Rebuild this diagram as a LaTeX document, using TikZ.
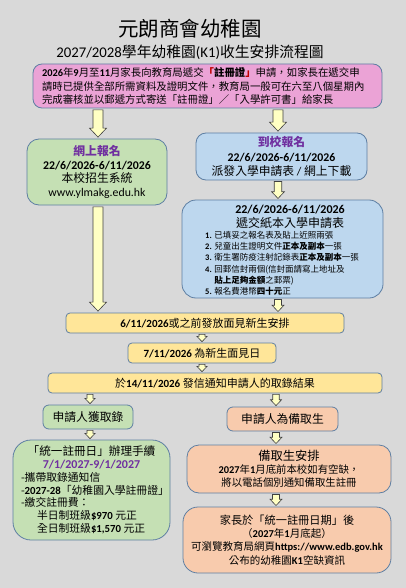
\documentclass[tikz,border=0pt]{standalone}
\usepackage{fontspec}
\setmainfont{Carlito}
\newfontfamily\cjk{Noto Sans CJK TC}
\newfontfamily\calibri{Carlito}
\usetikzlibrary{calc}

\definecolor{hgrau}{HTML}{D9D9D9}
\definecolor{rosa}{HTML}{EBA3D6}
\definecolor{gruen}{HTML}{C5E0B4}
\definecolor{blau}{HTML}{BDD7EE}
\definecolor{gelb}{HTML}{FFE699}
\definecolor{lachs}{HTML}{F8CBAD}
\definecolor{rand}{HTML}{5E7FA3}
\definecolor{lila}{HTML}{7030A0}
\definecolor{pfeil}{HTML}{FFFFC3}
\definecolor{klammer}{HTML}{C00000}

\newcommand\en[1]{{\calibri #1}}
\newcommand\enb[1]{{\calibri\bfseries #1}}

% Blockpfeil: [Faktor]{Spalte}{von}{nach}
\newcommand\blkarrow[4][1]{%
  \path[blockpfeil] let \p1=(#3.south), \p2=(#4.north), \p3=(#2),
    \n1={5pt*#1}, \n2={8.5pt*#1}, \n3={9pt*#1}, \n4={1.5pt*#1} in
    (\x3-\n1,\y1-\n4) -- (\x3+\n1,\y1-\n4) -- (\x3+\n1,\y2+\n3+\n4)
    -- (\x3+\n2,\y2+\n3+\n4) -- (\x3,\y2+\n4) -- (\x3-\n2,\y2+\n3+\n4)
    -- (\x3-\n1,\y2+\n3+\n4) -- cycle;}

\begin{document}
\begin{tikzpicture}[x=1pt, y=-1pt,
    every node/.style={inner sep=0pt, font={\cjk\fontsize{11}{13.5}\selectfont}},
    box/.style={draw=rand, line width=0.8pt, rounded corners=#1, align=center},
    box/.default=5pt,
    blockpfeil/.style={draw=black!75, line width=0.6pt, fill=pfeil, line join=miter}]

    % Hintergrund
    \fill[hgrau] (0,0) rectangle (406,588);

    % Ueberschrift
    \node[font={\cjk\fontsize{20.5}{24}\selectfont}] (titel) at (190,29) {元朗商會幼稚園};
    \node[font={\cjk\fontsize{14.8}{18}\selectfont}] (untertitel) at (190,52.5)
        {\en{2027/2028}學年幼稚園\en{(K1)}收生安排流程圖};

    % Hinweis zum Registrierungsschein
    \node[box=9pt, fill=rosa, minimum width=349pt, minimum height=44pt, text width=331pt,
          align=left, font={\cjk\fontsize{10.4}{13.5}\selectfont}] (info) at (207.5,86)
        {\enb{2026}年\enb{9}月至\enb{11}月家長向教育局遞交{\bfseries\textcolor{klammer}{「}註冊證\textcolor{klammer}{」}}申請，如家長在遞交申\\
         請時已提供全部所需資料及證明文件，教育局一般可在六至八個星期內\\
         完成審核並以郵遞方式寄送「註冊證」／「入學許可書」給家長};

    % Anmeldung online / vor Ort
    \node[box=12pt, fill=gruen, minimum width=140pt, minimum height=66pt,
          font={\cjk\fontsize{11.8}{13.5}\selectfont}] (online) at (97,172)
        {{\color{lila}\bfseries 網上報名}\\
         \enb{22/6/2026-6/11/2026}\\
         本校招生系統\\
         \en{www.ylmakg.edu.hk}};
    \node[box=10pt, fill=blau, minimum width=171pt, minimum height=47pt,
          font={\cjk\fontsize{11.8}{14.5}\selectfont}] (vorort) at (281.5,156.5)
        {{\color{lila}\bfseries 到校報名}\\
         \enb{22/6/2026-6/11/2026}\\
         派發入學申請表 \en{/} 網上下載};

    % Antragsformular mit Unterlagen
    \node[box=14pt, fill=blau, minimum width=201pt, minimum height=98pt] (formular) at (282.5,249) {};
    \node[font={\cjk\fontsize{12}{14}\selectfont}] (formdatum) at (290,209.5) {\enb{22/6/2026-6/11/2026}};
    \node[font={\cjk\fontsize{12}{14}\selectfont}] (formtitel) at (290,223) {遞交紙本入學申請表};
    \node[anchor=north west, align=left, font={\cjk\fontsize{8.5}{11.3}\selectfont}] (formliste) at (205,231)
        {\enb{1.} 已填妥之報名表及貼上近照兩張\\
         \enb{2.} 兒童出生證明文件{\bfseries 正本及副本}一張\\
         \enb{3.} 衛生署防疫注射記錄表{\bfseries 正本及副本}一張\\
         \enb{4.} 回郵信封兩個(信封面請寫上地址及\\
         \phantom{\enb{4.} }{\bfseries 貼上足夠金額}之郵票)\\
         \enb{5.} 報名費港幣{\bfseries 四十元}正};

    % Termine
    \node[box=4pt, fill=gelb, minimum width=278pt, minimum height=20pt] (termin) at (205,323)
        {\enb{6/11/2026}或之前發放面見新生安排};
    \node[box=4pt, fill=gelb, minimum width=148pt, minimum height=20pt] (tag) at (202,353)
        {\enb{7/11/2026} 為新生面見日};
    \node[box=4pt, fill=gelb, minimum width=334pt, minimum height=20pt] (ergebnis) at (215,383)
        {於\enb{14/11/2026} 發信通知申請人的取錄結果};

    % Ergebnis: Aufnahme oder Warteliste
    \node[box=6pt, fill=gruen, minimum width=90pt, minimum height=24pt,
          font={\cjk\fontsize{11.8}{14}\selectfont}] (aufnahme) at (88,417) {申請人獲取錄};
    \node[box=6pt, fill=lachs, minimum width=111pt, minimum height=24pt,
          font={\cjk\fontsize{11.8}{14}\selectfont}] (warteliste) at (282.5,419) {申請人為備取生};

    \node[box=18pt, fill=gruen, minimum width=157pt, minimum height=100pt,
          font={\cjk\fontsize{10.8}{12.8}\selectfont}] (registrierung) at (91.5,490)
        {{\fontsize{11.6}{12.8}\selectfont「統一註冊日」辦理手續}\\
         {\color{lila}\fontsize{12}{12.8}\selectfont\enb{7/1/2027-9/1/2027}}\\
         \makebox[141pt][l]{-攜帶取錄通知信}\\
         \makebox[141pt][l]{-\enb{2027-28}「幼稚園入學註冊證」}\\
         \makebox[141pt][l]{-繳交註冊費：}\\
         \makebox[141pt][l]{\hspace*{16pt}半日制班級\enb{\$970} 元正}\\
         \makebox[141pt][l]{\hspace*{16pt}全日制班級\enb{\$1,570} 元正}};

    \node[box=12pt, fill=lachs, minimum width=204pt, minimum height=48pt,
          font={\cjk\fontsize{10.4}{13}\selectfont}] (nachruecken) at (289,469)
        {{\fontsize{12.3}{13}\selectfont 備取生安排}\\
         \enb{2027}年\enb{1}月底前本校如有空缺，\\
         將以電話個別通知備取生註冊};
    \node[box=15pt, fill=lachs, minimum width=208pt, minimum height=66pt,
          font={\cjk\fontsize{10.5}{13.3}\selectfont}] (freiplaetze) at (287,540)
        {{\fontsize{11.2}{13.3}\selectfont 家長於「統一註冊日期」後}\\
         （\enb{2027}年\enb{1}月底起）\\
         可瀏覽教育局網頁\enb{https://www.edb.gov.hk}\\
         公布的幼稚園\enb{K1}空缺資訊};

    % Pfeilspalten
    \coordinate (spL) at (98,0);
    \coordinate (spR) at (278,0);
    \coordinate (spM) at (202,0);
    \coordinate (spL2) at (90,0);
    \coordinate (spR2) at (276,0);

    % Blockpfeile
    \blkarrow{spL}{info}{online}
    \blkarrow{spR}{info}{vorort}
    \blkarrow[0.75]{spR}{vorort}{formular}
    \blkarrow{spL}{online}{termin}
    \blkarrow[0.7]{spR}{formular}{termin}
    \blkarrow[0.6]{spM}{termin}{tag}
    \blkarrow[0.6]{spM}{tag}{ergebnis}
    \blkarrow[0.6]{spL2}{ergebnis}{aufnahme}
    \blkarrow[0.65]{spR2}{ergebnis}{warteliste}
    \blkarrow[0.6]{spL2}{aufnahme}{registrierung}
    \blkarrow[0.7]{spR2}{warteliste}{nachruecken}
    \blkarrow[0.7]{spR2}{nachruecken}{freiplaetze}
\end{tikzpicture}
\end{document}
